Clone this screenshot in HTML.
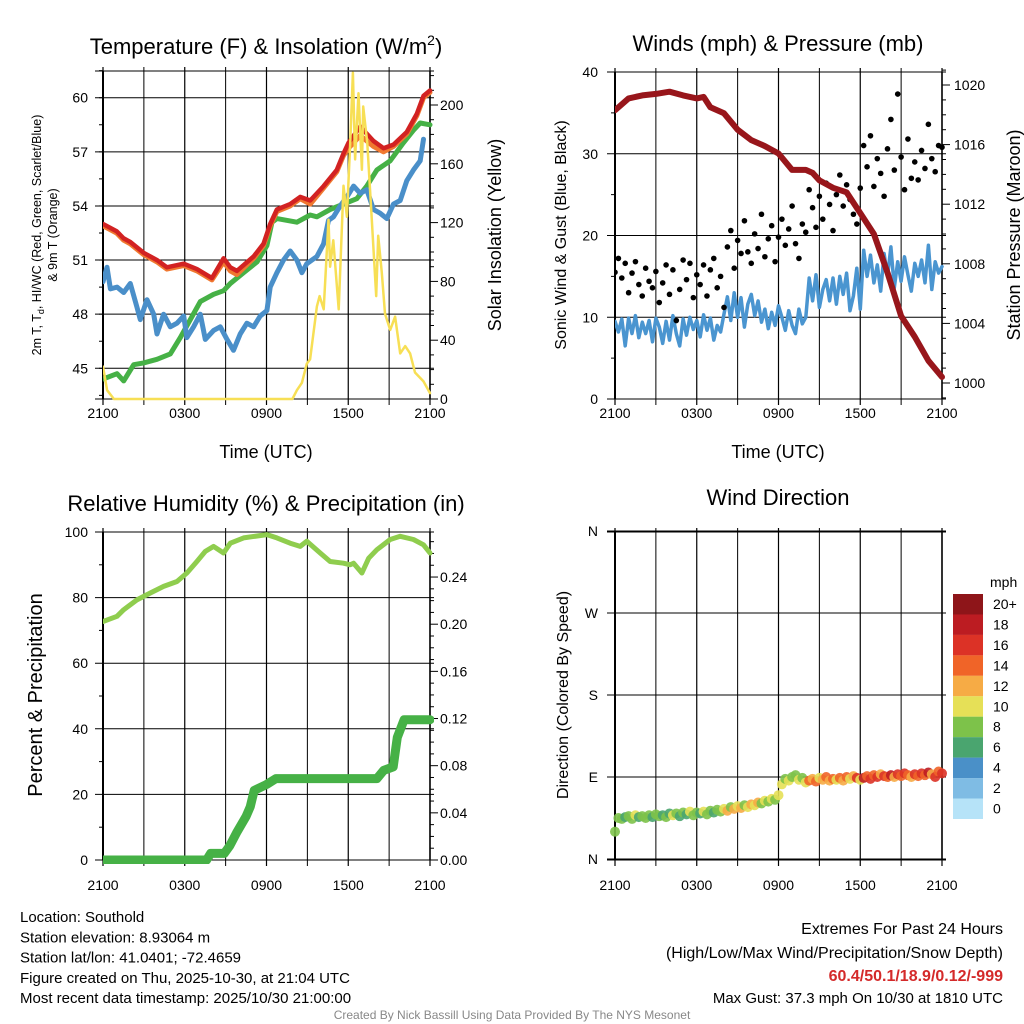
<!DOCTYPE html>
<html><head><meta charset="utf-8"><style>
html,body{margin:0;padding:0;background:#fff;}
svg{display:block;font-family:"Liberation Sans",sans-serif;}
</style></head><body>
<svg id="c" width="1024" height="1024" viewBox="0 0 1024 1024" xmlns="http://www.w3.org/2000/svg"></svg>
<script>
// ---------- DATA ----------
const redT=[0,1.0,1.52,2.0,2.98,3.96,4.69,5.92,6.89,7.99,8.85,9.34,9.83,11.05,11.78,12.27,12.76,13.74,14.47,15.21,16.19,17.16,17.65,18.02,18.88,19.85,20.59,21.32,22.3,23.03,23.52,24.0];
const redV=[53.0,52.6,52.2,52.0,51.4,51.0,50.6,50.8,50.5,50.0,51.1,50.6,50.4,51.2,51.9,53.0,53.8,54.1,54.5,54.3,55.1,56.0,56.9,57.5,58.4,57.6,57.2,57.4,58.1,59.1,60.1,60.4];
const orangeV=[52.9,52.5,52.1,51.9,51.3,50.9,50.5,50.7,50.4,49.9,50.9,50.4,50.2,51.1,51.8,52.9,53.7,54.0,54.4,54.1,55.0,55.9,56.8,57.2,57.9,57.3,57.0,57.3,58.0,59.0,60.0,60.3];
const greenT=[0,1.03,1.52,2.25,2.98,3.96,4.94,5.67,6.41,7.14,8.12,8.85,9.34,10.32,11.3,12.03,12.4,12.76,14.23,15.21,15.7,16.67,17.65,18.63,19.36,20.1,21.08,22.05,22.79,23.28,24.0];
const greenV=[44.4,44.7,44.3,45.2,45.3,45.5,45.8,46.7,47.7,48.7,49.1,49.3,49.7,50.3,50.9,51.8,53.1,53.3,53.1,53.5,53.4,53.8,54.1,54.4,55.1,56.0,56.5,57.5,58.2,58.6,58.5];
const blueT=[0,0.29,0.54,1.03,1.52,2.0,2.49,2.74,3.23,3.72,3.96,4.45,4.94,5.43,5.92,6.16,6.65,7.14,7.51,8.12,8.61,9.1,9.58,10.07,10.56,11.05,11.54,12.03,12.27,12.76,13.25,13.74,14.23,14.6,14.96,15.7,16.19,16.55,16.92,17.41,17.9,18.39,18.88,19.36,19.85,20.34,20.83,21.32,21.81,22.3,22.79,23.28,23.52];
const blueV=[49.8,50.6,49.4,49.5,49.2,49.7,48.4,47.7,48.8,48.0,46.9,48.0,47.3,47.5,47.9,46.7,47.3,48.0,46.6,47.1,47.3,46.6,46.0,46.9,47.5,47.3,47.9,48.2,49.5,50.3,51.0,51.5,51.0,50.3,50.8,51.2,51.9,53.2,53.4,54.0,54.5,55.1,54.7,54.9,53.8,53.6,53.3,54.1,54.3,55.4,56.0,56.5,57.7];
const solT=[0,0.3,0.8,13.9,14.23,14.6,14.96,15.2,15.7,15.9,16.2,16.55,16.67,16.9,17.3,17.65,17.9,18.14,18.34,18.5,18.75,19.0,19.1,19.4,19.73,20.05,20.2,20.46,20.7,21.08,21.44,21.81,22.18,22.54,22.9,23.52,24.0];
const solV=[22,6,0,0,6,11,24,27,63,70,61,122,90,108,61,145,124,174,222,163,208,156,199,174,122,70,111,86,58,47,56,31,36,31,18,12,4];
const presT=[0,1,2,3,4,5,6,6.5,7,8,9,10,11,12,13,14,14.5,15,16,17,18,19,20,21,22,23,24];
const presV=[1018.3,1019.1,1019.3,1019.4,1019.55,1019.3,1019.1,1019.2,1018.5,1018.1,1017.0,1016.3,1015.9,1015.4,1014.3,1014.3,1014.1,1013.6,1013.1,1012.8,1011.4,1010.0,1007.4,1004.5,1003.1,1001.5,1000.4];
// wind & gust & direction every 15 minutes (97 values)
const windV=[9.5,8.2,9.8,6.5,9.9,8.0,10.2,7.5,9.4, 8.0,9.6,7.0,9.9,8.8,6.8,9.5,7.2, 10.2,8.0,6.5,9.8,7.8,10.0,8.5,9.6, 7.6,10.3,8.4,9.9,7.2,9.0,8.2,10.4, 12.5,9.6,13.0,10.0,12.4,8.8,11.6,12.8, 10.2,12.0,9.4,11.0,8.6,10.6,9.0,11.4, 10.0,8.4,10.8,9.0,8.0,11.0,9.2,10.0, 14.8,12.0,15.2,11.2,13.4,14.6,12.0,14.8, 11.6,15.0,12.8,15.4,10.8,12.6,16.0,11.0, 18.2,15.0,17.6,14.2,16.4,13.2,17.8,15.0, 18.6,13.6,16.8,14.4,17.4,15.2,13.2,16.6, 15.0,17.0,14.2,18.8,13.4,16.8,15.4,16.2];
const gustV=[15.5,17.2,14.8,16.6,13.0,15.4,16.8,14.0,12.6, 16.0,14.4,13.6,15.6,11.8,14.2,16.4,12.8, 15.8,9.6,13.4,17.0,14.6,16.6,12.4,15.2, 14.0,16.4,12.6,15.8,17.2,13.6,15.0,11.2, 18.6,20.6,16.0,19.4,17.8,21.8,18.0,16.6, 20.2,18.4,22.6,17.4,19.6,21.2,16.8,19.8, 22.0,18.8,20.8,23.6,19.0,17.2,21.4,20.4, 25.6,23.4,21.0,24.8,22.0,26.4,23.8,20.6, 25.0,27.4,23.6,26.2,24.4,22.6,21.4,25.8, 31.0,28.4,32.2,26.0,29.4,27.6,24.8,30.6, 34.2,28.0,37.3,29.6,25.6,31.8,27.0,29.0, 26.8,30.4,28.2,33.6,29.4,27.8,31.0,30.8];
const dirV=[30,45,44,46,47,44,48,46,47, 45,48,46,49,47,48,46,50, 48,50,47,51,49,52,48,51, 50,52,49,53,51,54,52,55, 53,57,55,58,56,59,57,60, 59,62,61,64,63,66,65,70, 82,88,86,90,92,87,89,84, 86,88,85,89,87,90,86,88, 87,89,86,90,88,91,89,87, 89,91,88,92,90,93,91,90, 92,90,93,91,94,92,90,93, 91,94,92,95,93,90,96,94];
const rhT=[0,1.03,1.52,2.49,3.47,4.45,5.43,6.16,6.89,7.51,8.12,8.85,9.34,10.32,12.03,12.76,13.74,14.47,14.96,15.94,16.67,17.65,18.14,18.39,19.0,19.5,20.1,21.08,21.81,22.79,23.52,24.0];
const rhV=[72.7,74.3,76.3,79.3,81.4,83.4,84.9,87.5,91,94.1,95.6,93.6,96.6,98.2,99.2,98.2,96.6,95.6,97.2,93.6,91,90.5,90,90.5,87.5,92,94.6,97.7,98.7,97.7,96.1,93.6];
const prT=[0,7.6,7.9,8.9,9.3,9.8,10.5,10.8,11.1,12.0,12.7,20.1,20.6,21.3,21.6,22.1,24.0];
const prV=[0,0,0.0056,0.0056,0.012,0.023,0.037,0.045,0.059,0.064,0.069,0.069,0.076,0.079,0.104,0.119,0.119];
const xLabels=["2100","0300","0900","1500","2100"];
const tempTicks=[45,48,51,54,57,60];
const solTicks=[0,40,80,120,160,200];
const windTicks=[0,10,20,30,40];
const presTicks=[1000,1004,1008,1012,1016,1020];
const rhTicks=[0,20,40,60,80,100];
const prTicks=[0,0.04,0.08,0.12,0.16,0.20,0.24];
const dirLabels=["N","E","S","W","N"];
const cbLabels=["20+","18","16","14","12","10","8","6","4","2","0"];
const cbColors=["#8e1519","#bc1c22","#dc3226","#f06428","#f6ab45","#e6e057","#7dc24a","#4aa56f","#4a90c8","#7fbce4","#b6e3f8"];

// ---------- DRAW ----------
const NS="http://www.w3.org/2000/svg";
const svg=document.getElementById('c');
function el(tag,attrs,parent){const e=document.createElementNS(NS,tag);for(const k in attrs)e.setAttribute(k,attrs[k]);(parent||svg).appendChild(e);return e;}
function txt(s,x,y,size,anchor,parent,extra){const e=el('text',Object.assign({x:x,y:y,'font-size':size,'text-anchor':anchor||'middle',fill:'#000'},extra||{}),parent);e.textContent=s;return e;}

function panel(name,x0,x1,y0,y1){
  const g=el('g',{});
  
  
  const tx=h=>x0+h*(x1-x0)/24;
  for(let h=0;h<=24;h+=3){el('line',{x1:tx(h),x2:tx(h),y1:y0-4,y2:y1+6,stroke:'#000','stroke-width':(h%6==0)?1.2:1},g);}
  return {g,tx,x0,x1,y0,y1};
}
function hgrid(p,yv){
  el('line',{x1:p.x0-8,x2:p.x1+4,y1:yv,y2:yv,stroke:'#000','stroke-width':1},p.g);
}
function frame(p){
  el('line',{x1:p.x0,x2:p.x0,y1:p.y0,y2:p.y1,stroke:'#000','stroke-width':2},p.g);
  el('line',{x1:p.x1,x2:p.x1,y1:p.y0,y2:p.y1,stroke:'#000','stroke-width':1.5},p.g);
  el('line',{x1:p.x0-8,x2:p.x1+4,y1:p.y0,y2:p.y0,stroke:'#000','stroke-width':1},p.g);
  el('line',{x1:p.x0-8,x2:p.x1+4,y1:p.y1,y2:p.y1,stroke:'#000','stroke-width':1},p.g);
}
function xlabels(p,y){
  xLabels.forEach((s,i)=>{const t=txt(s,p.tx(i*6),y,14,'middle',p.g);
    
    });
}
function line(p,T,V,fy,color,w,name){
  const d=T.map((t,i)=>(i?'L':'M')+p.tx(t).toFixed(1)+','+fy(V[i]).toFixed(1)).join('');
  const e=el('path',{d:d,fill:'none',stroke:color,'stroke-width':w,'stroke-linejoin':'round','stroke-linecap':'round'},p.g);
  
  
  return e;
}
function clip(p,id){const c=el('clipPath',{id:id});el('rect',{x:p.x0,y:p.y0-4,width:p.x1-p.x0+4,height:p.y1-p.y0+8},c);const g=el('g',{'clip-path':'url(#'+id+')'},p.g);return g;}

// Panel 1
(function(){
  const p=panel('temperature-panel',103,430,71,399);
  const ty=v=>97.7+(60-v)*18.04, iy=v=>399-v*1.47;
  tempTicks.forEach(v=>{hgrid(p,ty(v));const t=txt(v,88,ty(v)+5,14,'end',p.g);
    });
  for(let v=43.5;v<=61.5;v+=1.5){el('line',{x1:p.x0-4,x2:p.x0,y1:ty(v),y2:ty(v),stroke:'#000'},p.g);}
  for(let v=0;v<=220;v+=10){el('line',{x1:p.x1,x2:p.x1+(v%40==0?8:4),y1:iy(v),y2:iy(v),stroke:'#000'},p.g);}
  solTicks.forEach(v=>{const t=txt(v,440,iy(v)+5,14,'start',p.g);
    });
  frame(p);xlabels(p,418);
  const g={g:clip(p,'c1'),tx:p.tx};
  line(g,greenT,greenV,ty,'#46b146',5,'dewpoint-line');
  line(g,blueT,blueV,ty,'#4a8fc9',5,'heat-index-line');
  line(g,redT,orangeV,ty,'#f07830',5,'9m-temp-line');
  line(g,redT,redV,ty,'#d22222',4.5,'2m-temp-line');
  line(g,solT,solV,iy,'#f7df55',2.5,'insolation-line');
  let t=txt('',266,54,22,'middle');t.innerHTML='Temperature (F) &amp; Insolation (W/m<tspan font-size="14" dy="-9">2</tspan><tspan dy="9">)</tspan>';
  
  t=txt('Time (UTC)',266,458,18,'middle');
  t=txt('',0,0,12.5,'middle',null,{transform:'translate(41,235) rotate(-90)'});
  t.innerHTML='2m T, T<tspan font-size="9" dy="3">d</tspan><tspan dy="-3">, HI/WC (Red, Green, Scarlet/Blue)</tspan>';
  
  t=txt('& 9m T (Orange)',0,0,12.5,'middle',null,{transform:'translate(57,235) rotate(-90)'});
  
  t=txt('Solar Insolation (Yellow)',0,0,18,'middle',null,{transform:'translate(501,235) rotate(-90)'});
  
})();

// Panel 2
(function(){
  const p=panel('winds-panel',615,942,72,399);
  const wy=v=>399-v*8.175, py=v=>85+(1020-v)*14.9;
  windTicks.forEach(v=>{hgrid(p,wy(v));const t=txt(v,598,wy(v)+5,14,'end',p.g);
    });
  for(let v=5;v<40;v+=10){el('line',{x1:p.x0-4,x2:p.x0,y1:wy(v),y2:wy(v),stroke:'#000'},p.g);}
  for(let v=999;v<=1021;v+=1){el('line',{x1:p.x1,x2:p.x1+(v%4==0?8:4),y1:py(v),y2:py(v),stroke:'#000'},p.g);}
  presTicks.forEach(v=>{const t=txt(v,954,py(v)+5,14,'start',p.g);
    });
  frame(p);xlabels(p,418);
  const g={g:clip(p,'c2'),tx:p.tx};
  const wt=windV.map((v,i)=>i*0.25);
  line(g,wt,windV,wy,'#4a95d0',3.5,'wind-speed-line');
  gustV.forEach((v,i)=>{const c=el('circle',{cx:p.tx(i*0.25),cy:wy(v),r:2.8,fill:'#000'},g.g);
    });
  line(g,presT,presV,py,'#98161b',6,'pressure-line');
  let t=txt('Winds (mph) & Pressure (mb)',778,51,22,'middle');
  t=txt('Time (UTC)',778,458,18,'middle');
  t=txt('Sonic Wind & Gust (Blue, Black)',0,0,16,'middle',null,{transform:'translate(566,235) rotate(-90)'});
  
  t=txt('Station Pressure (Maroon)',0,0,18,'middle',null,{transform:'translate(1020,235) rotate(-90)'});
  
})();

// Panel 3
(function(){
  const p=panel('humidity-panel',103,430,532,860);
  const ry=v=>860-v*3.28, pry=v=>860-v*1179;
  rhTicks.forEach(v=>{hgrid(p,ry(v));const t=txt(v,88,ry(v)+5,14,'end',p.g);
    });
  for(let v=10;v<100;v+=20){el('line',{x1:p.x0-4,x2:p.x0,y1:ry(v),y2:ry(v),stroke:'#000'},p.g);}
  for(let k=0;k<=27;k++){const v=k*0.01;el('line',{x1:p.x1,x2:p.x1+(k%4==0?8:4),y1:pry(v),y2:pry(v),stroke:'#000'},p.g);}
  prTicks.forEach(v=>{const t=txt(v.toFixed(2),440,pry(v)+5,14,'start',p.g);
    });
  frame(p);xlabels(p,890);
  const g={g:clip(p,'c3'),tx:p.tx};
  line(g,rhT,rhV,ry,'#8fcd4e',5,'rh-line');
  line(g,prT,prV,pry,'#46b146',9,'precip-line');
  let t=txt('Relative Humidity (%) & Precipitation (in)',266,511,22,'middle');
  t=txt('Percent & Precipitation',0,0,20,'middle',null,{transform:'translate(42,695) rotate(-90)'});
  
})();

// Panel 4
(function(){
  const p=panel('wind-direction-panel',615,942,532,860);
  const dy=v=>859-v*0.9111;
  dirLabels.forEach((s,i)=>{hgrid(p,dy(i*90));const t=txt(s,598,dy(i*90)+5,14,'end',p.g);
    });
  frame(p);xlabels(p,890);
  const col=v=>cbColors[10-Math.min(10,Math.floor(v/2))];
  dirV.forEach((v,i)=>{const c=el('circle',{cx:p.tx(i*0.25),cy:dy(v),r:5,fill:col(windV[i]),'fill-opacity':0.9},p.g);
    });
  let t=txt('Wind Direction',778,505,22,'middle');
  t=txt('Direction (Colored By Speed)',0,0,16,'middle',null,{transform:'translate(568,695) rotate(-90)'});
  
  const cb=el('g',{});
  cbColors.forEach((c,i)=>{el('rect',{x:953,y:594+i*20.45,width:30,height:20.5,fill:c},cb);
    const t=txt(cbLabels[i],993,594+i*20.45+15,14,'start',cb);
    });
  t=txt('mph',990,587,14,'start',cb);
})();

// Footer text
const left=["Location: Southold","Station elevation: 8.93064 m","Station lat/lon: 41.0401; -72.4659","Figure created on Thu, 2025-10-30, at 21:04 UTC","Most recent data timestamp: 2025/10/30 21:00:00"];
left.forEach((s,i)=>{const t=txt(s,20,922+i*20.3,15,'start');});
let t=txt('Extremes For Past 24 Hours',1003,934,16,'end');
t=txt('(High/Low/Max Wind/Precipitation/Snow Depth)',1003,958,16,'end');
t=txt('60.4/50.1/18.9/0.12/-999',1003,981,16,'end',null,{fill:'#d42a2a','font-weight':'bold'});
t=txt('Max Gust: 37.3 mph On 10/30 at 1810 UTC',1003,1003,15,'end');
t=txt('Created By Nick Bassill Using Data Provided By The NYS Mesonet',512,1019,12,'middle',null,{fill:'#888'});
</script>
</body></html>
